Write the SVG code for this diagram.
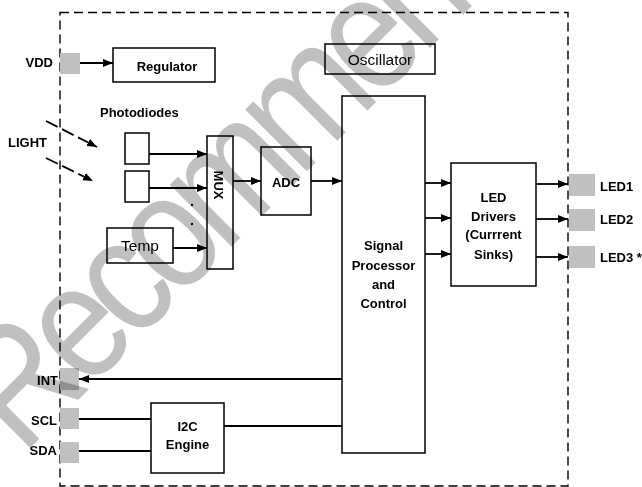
<svg xmlns="http://www.w3.org/2000/svg" width="642" height="487" viewBox="0 0 642 487">
<style>
.box{fill:#fff;stroke:#000;stroke-width:1.5}
.pad{fill:#c0c0c0;stroke:none}
.b{font-family:"Liberation Sans",Arial,sans-serif;font-weight:bold;font-size:13px;fill:#000}
.r{font-family:"Liberation Sans",Arial,sans-serif;font-size:15.5px;fill:#000}
.ln{fill:none;stroke:#000;stroke-width:1.8}
.arr{marker-end:url(#ah)}
.dash{stroke-dasharray:13 5}
.wm{font-family:"Liberation Sans",Arial,sans-serif;font-size:165px;letter-spacing:-12px;fill:#c0c0c0;mix-blend-mode:multiply}
</style>
<defs>
<marker id="ah" markerUnits="userSpaceOnUse" markerWidth="11" markerHeight="9" refX="10" refY="4" orient="auto">
<path d="M0,0 L10,4 L0,8 z" fill="#000"/>
</marker>
</defs>
<rect width="642" height="487" fill="#fff"/>
<g id="boundary">
<rect x="60" y="12.5" width="508" height="473.5" fill="none" stroke="#000" stroke-width="1.4" stroke-dasharray="9 5"/>
</g>
<g id="pads">
<g id="vdd"><rect class="pad" x="60" y="53" width="20" height="21"/><text class="b" x="53" y="67" text-anchor="end">VDD</text></g>
<g id="int"><rect class="pad" x="60" y="368" width="19" height="22"/><text class="b" x="58" y="384.5" text-anchor="end">INT</text></g>
<g id="scl"><rect class="pad" x="60" y="408" width="19" height="21"/><text class="b" x="57" y="424.5" text-anchor="end">SCL</text></g>
<g id="sda"><rect class="pad" x="60" y="442" width="19" height="21"/><text class="b" x="57" y="454.5" text-anchor="end">SDA</text></g>
<g id="led1"><rect class="pad" x="569" y="174" width="26" height="22"/><text class="b" x="600" y="190.5">LED1</text></g>
<g id="led2"><rect class="pad" x="569" y="209" width="26" height="22"/><text class="b" x="600" y="224">LED2</text></g>
<g id="led3"><rect class="pad" x="569" y="246" width="26" height="22"/><text class="b" x="600" y="261.5">LED3 *</text></g>
</g>
<g id="light-label"><text class="b" x="8" y="146.5">LIGHT</text></g>
<g id="photodiodes-label"><text class="b" x="100" y="116.5">Photodiodes</text></g>
<g id="regulator"><rect class="box" x="113" y="48" width="102" height="34"/><text class="b" x="167" y="70.5" text-anchor="middle" font-size="13.5">Regulator</text></g>
<g id="oscillator"><rect class="box" x="325" y="44" width="110" height="30"/><text class="r" x="380" y="64.5" text-anchor="middle">Oscillator</text></g>
<g id="pd1"><rect class="box" x="125" y="133" width="24" height="31"/></g>
<g id="pd2"><rect class="box" x="125" y="171" width="24" height="31"/></g>
<g id="temp"><rect class="box" x="107" y="228" width="66" height="35"/><text class="r" x="140" y="250.5" text-anchor="middle">Temp</text></g>
<g id="dots"><circle cx="192" cy="205" r="1.2" fill="#000"/><circle cx="192" cy="224" r="1.2" fill="#000"/></g>
<g id="mux"><rect class="box" x="207" y="136" width="26" height="133"/><text class="b" transform="translate(214,185) rotate(90)" text-anchor="middle" font-size="13.5">MUX</text></g>
<g id="adc"><rect class="box" x="261" y="147" width="50" height="68"/><text class="b" x="286" y="187" text-anchor="middle" font-size="16">ADC</text></g>
<g id="signal-processor"><rect class="box" x="342" y="96" width="83" height="357"/>
<text class="b" text-anchor="middle"><tspan x="383.5" y="250">Signal</tspan><tspan x="383.5" y="270">Processor</tspan><tspan x="383.5" y="288.5">and</tspan><tspan x="383.5" y="308">Control</tspan></text></g>
<g id="led-drivers"><rect class="box" x="451" y="163" width="85" height="123"/>
<text class="b" text-anchor="middle" font-size="13.5"><tspan x="493.5" y="202">LED</tspan><tspan x="493.5" y="220.5">Drivers</tspan><tspan x="493.5" y="239">(Currrent</tspan><tspan x="493.5" y="258.5">Sinks)</tspan></text></g>
<g id="i2c"><rect class="box" x="151" y="403" width="73" height="70"/>
<text class="b" text-anchor="middle"><tspan x="187.5" y="431">I2C</tspan><tspan x="187.5" y="448.5">Engine</tspan></text></g>
<g id="connectors">
<path class="ln arr" d="M80,63 H113"/>
<path class="ln arr dash" d="M46,121 L97,147"/>
<path class="ln arr dash" d="M46,158 L93,181"/>
<path class="ln arr" d="M149,154 H207"/>
<path class="ln arr" d="M149,188 H207"/>
<path class="ln arr" d="M173,248 H207"/>
<path class="ln arr" d="M233,181 H261"/>
<path class="ln arr" d="M311,181 H342"/>
<path class="ln arr" d="M425,183 H451"/>
<path class="ln arr" d="M425,218 H451"/>
<path class="ln arr" d="M425,254 H451"/>
<path class="ln arr" d="M536,184 H568"/>
<path class="ln arr" d="M536,219 H568"/>
<path class="ln arr" d="M536,257 H568"/>
<path class="ln arr" d="M342,379 H79"/>
<path class="ln" d="M79,419 H151"/>
<path class="ln" d="M79,451 H151"/>
<path class="ln" d="M224,426 H342"/>
</g>
<g id="watermark"><text class="wm" transform="translate(22,456) rotate(-45) scale(0.85,1)">Recommended</text></g>
</svg>
